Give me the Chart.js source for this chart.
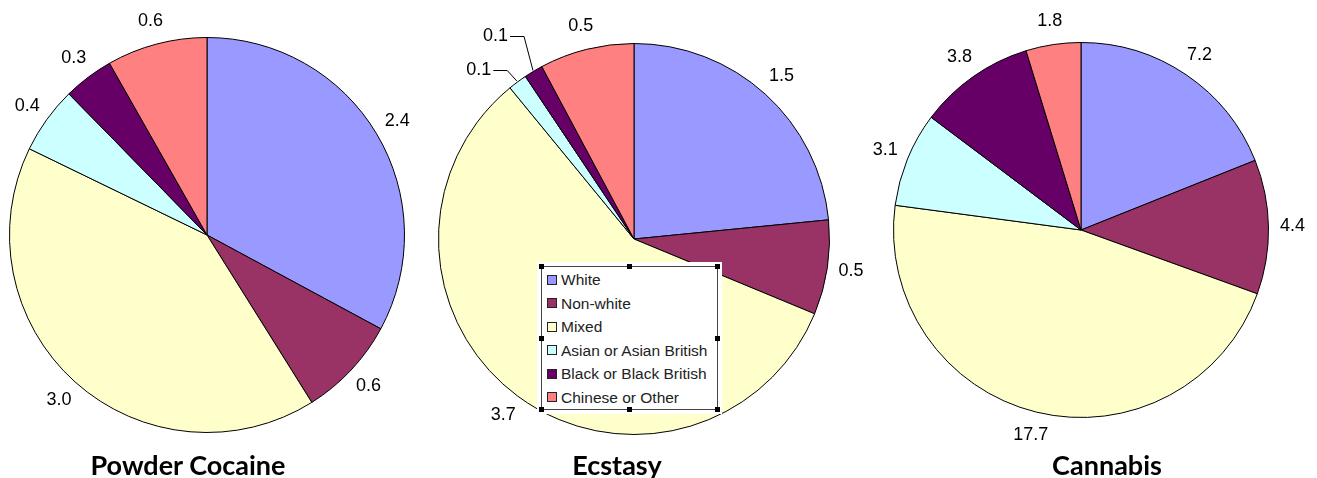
<!DOCTYPE html>
<html>
<head>
<meta charset="utf-8">
<script src="https://cdn.jsdelivr.net/npm/chart.js@4.4.1/dist/chart.umd.min.js"></script>
<style>
  html, body { margin: 0; padding: 0; background: #fff; }
  body { width: 1317px; height: 478px; position: relative; overflow: hidden; font-family: "Liberation Sans", Arial, sans-serif; }
  canvas { position: absolute; top: 0; }
  .title { position: absolute; top: 451px; font-family: Lato, "Open Sans", sans-serif; font-weight: 700; font-size: 27px; line-height: 27px; color: #000; transform: translateX(-50%); white-space: nowrap; }
  #legendBack { position: absolute; left: 537px; top: 262px; width: 185px; height: 152px; background: #fff; }
  #legend { position: absolute; left: 541px; top: 266px; width: 177px; height: 144px; border: 1px solid #444; box-sizing: border-box; }
  #legend ul { list-style: none; margin: 0; padding: 0; position: absolute; left: 5px; top: 1px; }
  #legend li { height: 23.5px; line-height: 23.5px; font-size: 15.5px; color: #222; white-space: nowrap; display: flex; align-items: center; }
  #legend li span.box { display: inline-block; width: 10px; height: 10px; border: 1px solid #222; box-sizing: border-box; margin-right: 4px; }
  .handle { position: absolute; width: 5px; height: 5px; background: #000; }
</style>
</head>
<body>
<canvas id="cocaine" width="430" height="478" style="left:0px"></canvas>
<canvas id="ecstasy" width="440" height="478" style="left:430px"></canvas>
<canvas id="cannabis" width="447" height="478" style="left:870px"></canvas>
<div class="title" style="left:188px">Powder Cocaine</div>
<div class="title" style="left:617px">Ecstasy</div>
<div class="title" style="left:1107px">Cannabis</div>
<div id="legendBack"></div>
<div id="legend"><ul id="legendList"></ul></div>
<script>
// data
const categories = ['White', 'Non-white', 'Mixed', 'Asian or Asian British', 'Black or Black British', 'Chinese or Other'];
const cocaineValues = [2.4, 0.6, 3.0, 0.4, 0.3, 0.6];
const ecstasyValues = [1.5, 0.5, 3.7, 0.1, 0.1, 0.5];
const cannabisValues = [7.2, 4.4, 17.7, 3.1, 3.8, 1.8];

const sliceColors = ['#9999FF', '#993366', '#FFFFCC', '#CCFFFF', '#660066', '#FF8080'];

// value labels outside each slice, optional leader lines for tiny slices
const valueLabels = {
    id: 'valueLabels',
    afterDatasetsDraw(chart, args, opts) {
        const ctx = chart.ctx;
        const meta = chart.getDatasetMeta(0);
        const values = chart.data.datasets[0].data;
        const leaders = opts.leaders || [];
        ctx.save();
        ctx.font = '18px "Liberation Sans", Arial, sans-serif';
        ctx.fillStyle = '#000';
        ctx.strokeStyle = '#000';
        ctx.lineWidth = 1;
        ctx.textAlign = 'center';
        ctx.textBaseline = 'middle';
        meta.data.forEach((arc, i) => {
            const p = arc.getProps(['x', 'y', 'startAngle', 'endAngle', 'outerRadius'], true);
            const mid = (p.startAngle + p.endAngle) / 2;
            const lead = leaders.find(l => l.index === i);
            let ang = mid;
            let dist = p.outerRadius + opts.gap;
            if (lead) {
                ang = mid + lead.shift * Math.PI / 180;
                dist = p.outerRadius + lead.gap;
            }
            const lx = p.x + Math.cos(ang) * dist;
            const ly = p.y + Math.sin(ang) * dist;
            const text = values[i].toFixed(1);
            ctx.fillText(text, lx, ly);
            if (lead) {
                const w = ctx.measureText(text).width;
                const x0 = lx + w / 2 + 2;
                const yl = Math.round(ly) + 0.5;
                ctx.beginPath();
                ctx.moveTo(x0, yl);
                ctx.lineTo(x0 + 14, yl);
                ctx.lineTo(p.x + Math.cos(mid) * (p.outerRadius + 1), p.y + Math.sin(mid) * (p.outerRadius + 1));
                ctx.stroke();
            }
        });
        ctx.restore();
    }
};

function makePie(id, values, padding, leaders) {
    return new Chart(document.getElementById(id), {
        type: 'pie',
        data: {
            labels: categories,
            datasets: [{
                data: values,
                backgroundColor: sliceColors,
                borderColor: '#000',
                borderWidth: 1,
                hoverOffset: 0,
                offset: 0
            }]
        },
        options: {
            responsive: false,
            animation: false,
            devicePixelRatio: 1,
            events: [],
            layout: { padding: padding },
            plugins: {
                legend: { display: false },
                tooltip: { enabled: false },
                valueLabels: { gap: 24, leaders: leaders }
            }
        },
        plugins: [valueLabels]
    });
}

makePie('cocaine', cocaineValues, { left: 9, top: 37, right: 25, bottom: 45 }, []);
makePie('ecstasy', ecstasyValues, { left: 8, top: 43, right: 40, bottom: 43 }, [
    { index: 3, shift: -6, gap: 34 },
    { index: 4, shift: -3.4, gap: 50 }
]);
makePie('cannabis', cannabisValues, { left: 23, top: 42, right: 48, bottom: 60 }, []);

// legend box built from the same categories and colours
const legendList = document.getElementById('legendList');
categories.forEach((name, i) => {
    const li = document.createElement('li');
    li.innerHTML = `<span class="box" style="background:${sliceColors[i]}"></span>${name}`;
    legendList.appendChild(li);
});

// selection handles around the legend frame
const hx = [541, 629, 717];
const hy = [266, 337.5, 409];
hx.forEach((x, a) => {
    hy.forEach((y, b) => {
        if (a === 1 && b === 1) return;
        const h = document.createElement('div');
        h.className = 'handle';
        h.style.left = (x - 2) + 'px';
        h.style.top = (y - 2) + 'px';
        document.body.appendChild(h);
    });
});
</script>
</body>
</html>
